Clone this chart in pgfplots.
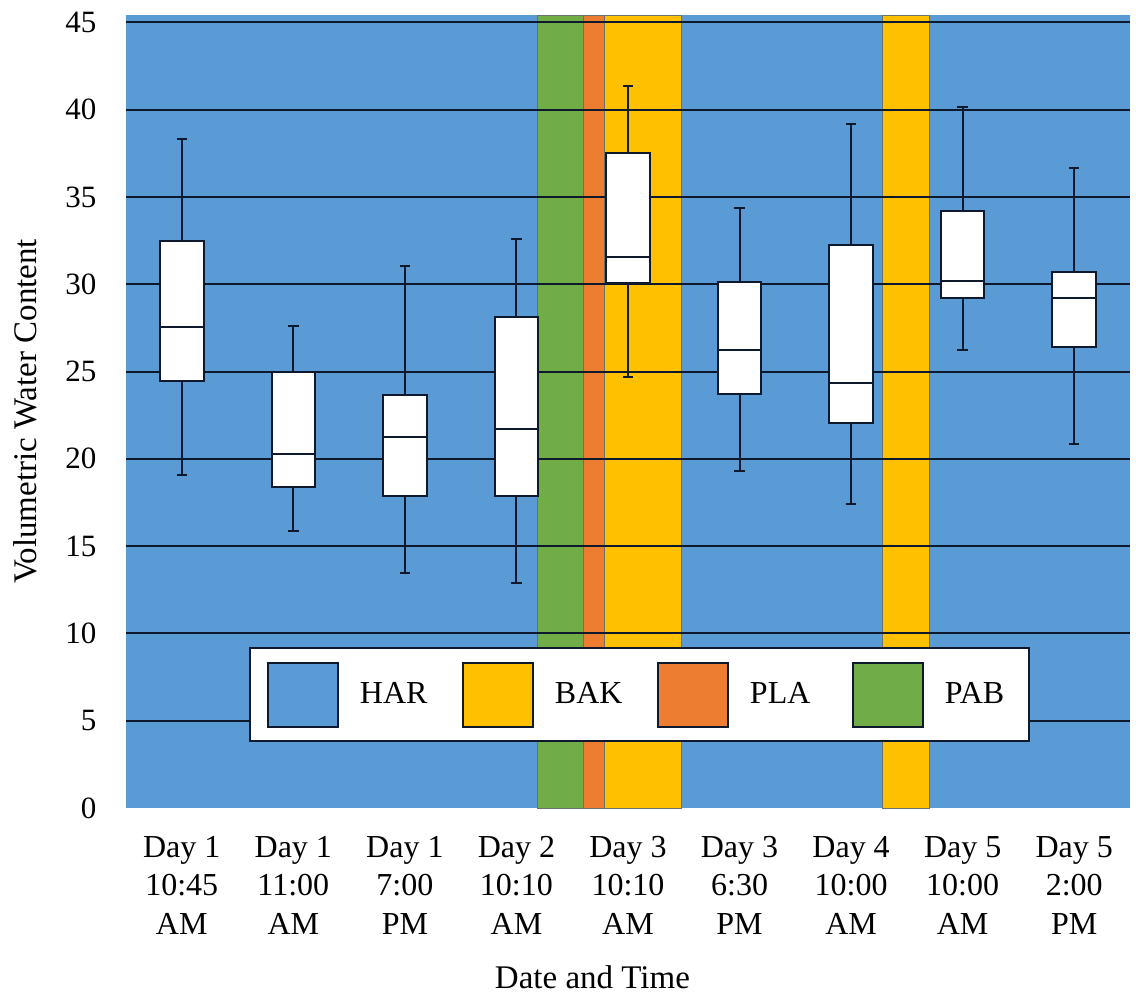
\documentclass[border=0pt]{standalone}
\usepackage{fontspec}
\setmainfont{Liberation Serif}
\usepackage{pgfplots}
\pgfplotsset{compat=1.18}

\definecolor{harblue}{RGB}{91,155,213}
\definecolor{bakyellow}{RGB}{255,192,0}
\definecolor{plaorange}{RGB}{237,125,49}
\definecolor{pabgreen}{RGB}{112,173,71}
\definecolor{inkc}{RGB}{15,25,45}
\definecolor{edgec}{RGB}{105,115,105}

\pgfplotsset{
  band/.style={fill=#1, draw=edgec, line width=0.5pt},
  hline/.style={forget plot, draw=inkc, line width=1pt, mark=none},
  boxline/.style={forget plot, draw=inkc, line width=1pt, mark=none, line join=miter},
}

% one box: position, lower whisker, lower quartile, median, upper quartile, upper whisker
\newcommand\vwcbox[6]{%
  \pgfmathsetmacro\bxl{#1-0.195}\pgfmathsetmacro\bxr{#1+0.195}%
  \pgfmathsetmacro\cxl{#1-0.047}\pgfmathsetmacro\cxr{#1+0.047}%
  \addplot[boxline] coordinates {(#1,#3) (#1,#2)};
  \addplot[boxline] coordinates {(\cxl,#2) (\cxr,#2)};
  \addplot[boxline] coordinates {(#1,#5) (#1,#6)};
  \addplot[boxline] coordinates {(\cxl,#6) (\cxr,#6)};
  \addplot[boxline, fill=white] coordinates {(\bxl,#3) (\bxr,#3) (\bxr,#5) (\bxl,#5)} -- cycle;
  \addplot[boxline] coordinates {(\bxl,#4) (\bxr,#4)};
}

\begin{document}
\begin{tikzpicture}
\begin{axis}[
  at={(63pt,92.5pt)}, anchor=south west,
  scale only axis, width=502pt, height=396.5pt,
  xmin=-0.5, xmax=8.5, ymin=0, ymax=45.42,
  axis line style={draw=none},
  major tick length=0pt,
  xtick={0,...,8},
  xticklabels={{Day 1\\10:45\\AM},{Day 1\\11:00\\AM},{Day 1\\7:00\\PM},{Day 2\\10:10\\AM},{Day 3\\10:10\\AM},{Day 3\\6:30\\PM},{Day 4\\10:00\\AM},{Day 5\\10:00\\AM},{Day 5\\2:00\\PM}},
  xticklabel style={align=center, font=\fontsize{16}{19.25}\selectfont, anchor=base, inner sep=0pt, yshift=-63pt},
  ytick={0,5,...,45},
  /pgf/number format/assume math mode=true,
  yticklabel style={font=\fontsize{15.5}{18}\selectfont, anchor=east, inner sep=0pt, xshift=-14.6pt},
  xlabel={Date and Time},
  xlabel style={font=\fontsize{16.5}{19}\selectfont, at={(axis description cs:0.4646,-0.227)}, anchor=base, inner sep=0pt},
  ylabel={Volumetric Water Content},
  ylabel style={font=\fontsize{16.5}{19}\selectfont, at={(axis description cs:-0.1006,0.5)}, anchor=center, inner sep=0pt},
  legend columns=4,
  legend cell align=left,
  legend image code/.code={\draw[#1, draw=inkc, line width=1pt] (0pt,-16pt) rectangle (35pt,16pt);},
  legend style={at={(0.1225,0.2030)}, anchor=north west, draw=inkc, line width=1pt, fill=white,
    font=\fontsize{16}{19}\selectfont, inner xsep=8.5pt, inner ysep=6.75pt,
    nodes={inner sep=0pt}, column sep=10.5pt,
    /tikz/every even column/.append style={column sep=0pt}},
]
% site bands behind the data
\addplot[fill=harblue, draw=none] coordinates {(-0.5,45.42) (8.5,45.42)} \closedcycle;
\addlegendentry{\makebox[51pt][l]{HAR}}
\addplot[band=bakyellow] coordinates {(3.787,45.42) (4.484,45.42)} \closedcycle;
\addlegendentry{\makebox[51pt][l]{BAK}}
\addplot[band=plaorange] coordinates {(3.599,45.42) (3.787,45.42)} \closedcycle;
\addlegendentry{\makebox[51pt][l]{PLA}}
\addplot[band=pabgreen] coordinates {(3.187,45.42) (3.599,45.42)} \closedcycle;
\addlegendentry{\makebox[33.5pt][l]{PAB}}
\addplot[band=bakyellow, forget plot] coordinates {(6.283,45.42) (6.707,45.42)} \closedcycle;

% horizontal grid lines over the bands
\addplot[hline] coordinates {(-0.5,5) (8.5,5)};
\addplot[hline] coordinates {(-0.5,10) (8.5,10)};
\addplot[hline] coordinates {(-0.5,15) (8.5,15)};
\addplot[hline] coordinates {(-0.5,20) (8.5,20)};
\addplot[hline] coordinates {(-0.5,25) (8.5,25)};
\addplot[hline] coordinates {(-0.5,30) (8.5,30)};
\addplot[hline] coordinates {(-0.5,35) (8.5,35)};
\addplot[hline] coordinates {(-0.5,40) (8.5,40)};
\addplot[hline] coordinates {(-0.5,45) (8.5,45)};

% box plots
\vwcbox{0}{19.05}{24.46}{27.53}{32.47}{38.30}
\vwcbox{1}{15.86}{18.40}{20.26}{24.95}{27.62}
\vwcbox{2}{13.46}{17.87}{21.25}{23.65}{31.04}
\vwcbox{3}{12.90}{17.87}{21.69}{28.14}{32.57}
\vwcbox{4}{24.70}{30.09}{31.58}{37.51}{41.37}
\vwcbox{5}{19.30}{23.69}{26.23}{30.14}{34.35}
\vwcbox{6}{17.41}{22.07}{24.32}{32.24}{39.19}
\vwcbox{7}{26.23}{29.19}{30.17}{34.21}{40.15}
\vwcbox{8}{20.83}{26.42}{29.19}{30.72}{36.64}
\end{axis}
\pgfresetboundingbox
\path (0,0) rectangle (568pt,496.5pt);
\end{tikzpicture}
\end{document}
